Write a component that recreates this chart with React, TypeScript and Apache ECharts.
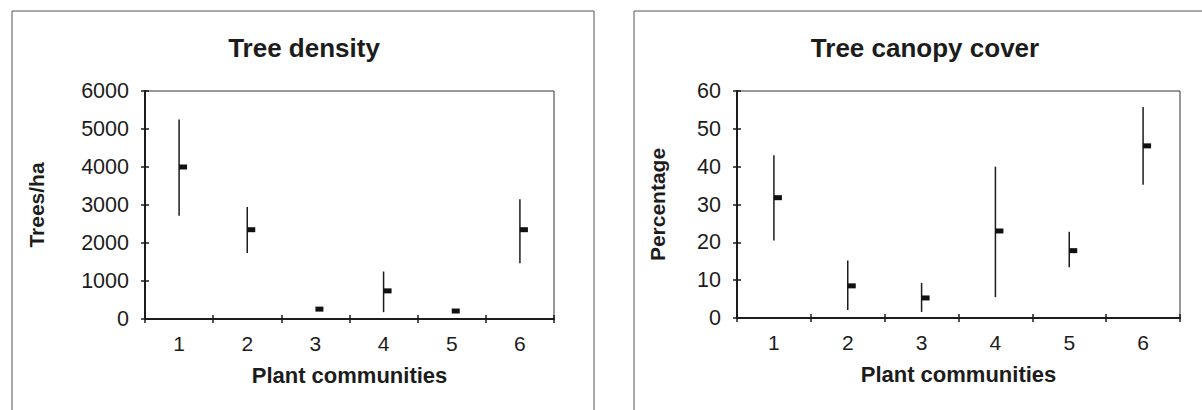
import React, { useEffect, useRef } from "react";
import * as echarts from "echarts";

const communities = ["1", "2", "3", "4", "5", "6"];

const densityTicks = [0, 1000, 2000, 3000, 4000, 5000, 6000];
const densityMean = [4000, 2350, 260, 740, 210, 2350];
const densityHigh = [5250, 2950, null, 1250, null, 3150];
const densityLow = [2720, 1740, null, 180, null, 1470];

const canopyTicks = [0, 10, 20, 30, 40, 50, 60];
const canopyMean = [31.8, 8.5, 5.3, 23.0, 17.8, 45.5];
const canopyHigh = [43, 15.2, 9.3, 40, 22.8, 55.8];
const canopyLow = [20.5, 2.1, 1.6, 5.5, 13.4, 35.2];

const FONT = "'Liberation Sans', Arial, sans-serif";
const INK = "#1c1c1c";

function buildData(mean: number[], low: (number | null)[], high: (number | null)[]) {
  return mean.map((m, i) => [i, m, low[i] == null ? "-" : low[i], high[i] == null ? "-" : high[i]]);
}

const renderItem = (params: any, api: any) => {
  const x = api.value(0);
  const mean = api.value(1);
  const low = api.value(2);
  const high = api.value(3);
  const pm = api.coord([x, mean]);
  const children: any[] = [];
  if (!isNaN(low) && !isNaN(high)) {
    const pl = api.coord([x, low]);
    const ph = api.coord([x, high]);
    children.push({
      type: "line",
      shape: { x1: pm[0], y1: pl[1], x2: pm[0], y2: ph[1] },
      style: { stroke: INK, lineWidth: 1.5 },
    });
  }
  children.push({
    type: "rect",
    shape: { x: pm[0], y: pm[1] - 2.5, width: 8, height: 5 },
    style: { fill: "#111" },
  });
  return { type: "group", children };
};

function makeXAxes(gridIndex: number) {
  return [
    {
      type: "category",
      gridIndex,
      data: communities,
      position: "bottom",
      boundaryGap: true,
      name: "Plant communities",
      nameLocation: "middle",
      nameGap: 45,
      nameTextStyle: { fontFamily: FONT, fontSize: 22, fontWeight: "bold", color: INK },
      axisLine: { show: true, lineStyle: { color: INK, width: 2 } },
      axisTick: { show: true, inside: false, length: 4, alignWithLabel: false, lineStyle: { color: INK, width: 1.5 } },
      axisLabel: { fontFamily: FONT, fontSize: 21, color: INK, margin: 14 },
      splitLine: { show: false },
    },
    {
      type: "category",
      gridIndex,
      data: communities,
      position: "bottom",
      boundaryGap: true,
      axisLine: { show: false },
      axisTick: { show: true, inside: true, length: 4, lineStyle: { color: INK, width: 1.5 } },
      axisLabel: { show: false },
      splitLine: { show: false },
    },
  ];
}

function makeYAxes(gridIndex: number, ticks: number[], name: string, nameGap: number) {
  const min = ticks[0];
  const max = ticks[ticks.length - 1];
  const interval = ticks[1] - ticks[0];
  return [
    {
      type: "value",
      gridIndex,
      position: "left",
      min,
      max,
      interval,
      name,
      nameLocation: "middle",
      nameGap,
      nameTextStyle: { fontFamily: FONT, fontSize: 21, fontWeight: "bold", color: INK },
      axisLine: { show: true, lineStyle: { color: INK, width: 2 } },
      axisTick: { show: true, inside: false, length: 4, lineStyle: { color: INK, width: 1.5 } },
      axisLabel: {
        fontFamily: FONT,
        fontSize: 21.5,
        color: INK,
        margin: 16,
        formatter: (v: number) => String(v),
      },
      splitLine: { show: false },
    },
    {
      type: "value",
      gridIndex,
      position: "left",
      min,
      max,
      interval,
      axisLine: { show: false },
      axisTick: { show: true, inside: true, length: 4, lineStyle: { color: INK, width: 1.5 } },
      axisLabel: { show: false },
      splitLine: { show: false },
    },
  ];
}

export default function App() {
  const ref = useRef<HTMLDivElement>(null);

  useEffect(() => {
    if (!ref.current) return;
    const chart = echarts.init(ref.current, null, { renderer: "svg" });
    const xAxes = [...makeXAxes(0), ...makeXAxes(1)];
    const yAxes = [
      ...makeYAxes(0, densityTicks, "Trees/ha", 98),
      ...makeYAxes(1, canopyTicks, "Percentage", 69),
    ];
    chart.setOption({
      animation: false,
      backgroundColor: "#ffffff",
      title: [
        {
          text: "Tree density",
          left: 304,
          top: 35,
          textAlign: "center",
          padding: 0,
          textStyle: { fontFamily: FONT, fontSize: 26, fontWeight: "bold", color: INK },
        },
        {
          text: "Tree canopy cover",
          left: 925,
          top: 35,
          textAlign: "center",
          padding: 0,
          textStyle: { fontFamily: FONT, fontSize: 26, fontWeight: "bold", color: INK },
        },
      ],
      grid: [
        { left: 145, top: 91, width: 409, height: 228, show: true, borderColor: "#333", borderWidth: 1, backgroundColor: "transparent" },
        { left: 737, top: 91, width: 443, height: 227, show: true, borderColor: "#333", borderWidth: 1, backgroundColor: "transparent" },
      ],
      xAxis: xAxes,
      yAxis: yAxes,
      graphic: [
        { type: "rect", shape: { x: 12, y: 11, width: 582, height: 420 }, style: { fill: "none", stroke: "#555", lineWidth: 1 }, silent: true },
        { type: "rect", shape: { x: 634, y: 11, width: 600, height: 420 }, style: { fill: "none", stroke: "#555", lineWidth: 1 }, silent: true },
      ],
      series: [
        {
          type: "custom",
          name: "Tree density",
          xAxisIndex: 0,
          yAxisIndex: 0,
          renderItem,
          encode: { x: 0, y: 1 },
          data: buildData(densityMean, densityLow, densityHigh),
          z: 5,
        },
        {
          type: "custom",
          name: "Tree canopy cover",
          xAxisIndex: 2,
          yAxisIndex: 2,
          renderItem,
          encode: { x: 0, y: 1 },
          data: buildData(canopyMean, canopyLow, canopyHigh),
          z: 5,
        },
      ],
    });
    return () => chart.dispose();
  }, []);

  return (
    <div
      ref={ref}
      style={{ position: "fixed", left: 0, top: 0, width: 1202, height: 410, background: "#fff" }}
    />
  );
}
